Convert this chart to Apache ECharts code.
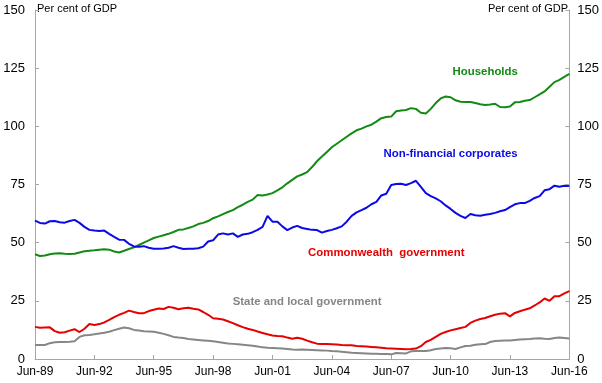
<!DOCTYPE html>
<html>
<head>
<meta charset="utf-8">
<script src="https://cdn.jsdelivr.net/npm/echarts@6/dist/echarts.min.js"></script>
<style>html,body{margin:0;padding:0;background:#fff}#c{width:602px;height:383px}</style>
</head>
<body>
<div id="c"></div>
<script>
// Quarterly, Jun-89 .. Jun-16
const startYear = 1989;
const quarterMonths = ['Jun', 'Sep', 'Dec', 'Mar'];
const tickLabels = ['Jun-89','Jun-92','Jun-95','Jun-98','Jun-01','Jun-04','Jun-07','Jun-10','Jun-13','Jun-16'];
const yTicks = [0, 25, 50, 75, 100, 125, 150];

const households = [
  45, 44.3, 44.5, 45,
  45.3, 45.5, 45.2, 45.1,
  45.2, 45.8, 46.3, 46.5,
  46.7, 47, 47.2, 47,
  46.2, 45.8, 46.5, 47.3,
  48, 49, 50, 51,
  52, 52.6, 53.2, 53.8,
  54.6, 55.5, 55.7, 56.3,
  57, 58, 58.5, 59.3,
  60.5, 61.3, 62.3, 63.2,
  64, 65.3, 66.3, 67.5,
  68.5, 70.5, 70.3, 70.7,
  71.3, 72.5, 73.8, 75.5,
  77, 78.5, 79.3, 80.3,
  82.5, 85, 87, 89,
  91, 92.5, 94, 95.5,
  97, 98.3, 99, 100,
  100.7, 102, 103.5, 104,
  104.2, 106.5, 106.8, 107,
  107.8, 107.5, 105.8, 105.5,
  107.5, 110, 112, 112.8,
  112.5, 111.2, 110.6, 110.5,
  110.5, 110, 109.5, 109.2,
  109.4, 109.7, 108.3, 108.2,
  108.5, 110.3, 110.5, 111,
  111.3, 112.5, 113.7, 115,
  117, 119, 120, 121.3,
  122.5
];
const corporates = [
  59.5, 58.5, 58.2, 59.2,
  59.3, 58.8, 58.6, 59.3,
  59.8, 58.5, 56.8, 55.5,
  55.2, 55, 55.2, 53.8,
  52.5, 51.3, 51.2, 49.5,
  48.4, 48.2, 48.5, 47.8,
  47.4, 47.4, 47.5, 47.8,
  48.5, 47.8, 47.3, 47.4,
  47.4, 47.6, 48.3, 50.5,
  51, 53.5, 54, 53.5,
  54, 52.5, 53.5, 53.8,
  54.5, 55.5, 56.8, 61.5,
  59, 59, 57, 55.4,
  56.5, 57.2, 56.3, 55.9,
  55.5, 55.4, 54.3, 55,
  55.5, 56.2, 57, 59,
  61.5, 63, 64, 65,
  66.5, 67.5, 70.3, 71,
  74.8, 75.2, 75.3, 74.8,
  75.6, 76.6, 74, 71.3,
  70, 69, 67.8, 66,
  64.5, 62.8, 61.5, 60.6,
  62.3, 61.8, 61.6, 62,
  62.3, 62.8, 63.5, 64,
  65.3, 66.5, 67, 67,
  68, 69.2, 70, 72.5,
  73, 74.5, 74, 74.5,
  74.3
];
const commonwealth = [
  13.8, 13.4, 13.5, 13.6,
  12, 11.3, 11.5, 12.2,
  12.8, 11.6, 13, 15,
  14.6, 15, 15.7, 16.8,
  18, 19, 19.8, 20.8,
  20.2, 19.7, 19.7, 20.6,
  21.2, 21.7, 21.5, 22.4,
  22, 21.4, 21.8, 22,
  21.6, 21.3, 20.2, 19,
  17.5, 17.3, 17, 16.2,
  15.4, 14.5, 13.7, 13,
  12.5, 11.8, 11.2, 10.6,
  10.1, 9.9, 9.8, 9.2,
  8.7, 9.1, 8.7, 7.9,
  7.2, 6.6, 6.4, 6.4,
  6.3, 6.2, 6.0, 5.9,
  5.9, 5.6, 5.5, 5.4,
  5.2, 5.0, 4.8, 4.6,
  4.5, 4.4, 4.3, 4.2,
  4.3, 4.5, 5.5, 7.3,
  8.2, 9.5, 10.8, 11.6,
  12.3, 12.8, 13.3, 13.8,
  15.5, 16.5, 17.2, 17.6,
  18.4, 19, 19.5, 19.7,
  18.3, 19.8, 20.5, 21.2,
  21.8, 23, 24.3, 26,
  25, 27, 27, 28.2,
  29.2
];
const stateLocal = [
  6.0, 6.0, 6.0, 6.8,
  7.2, 7.3, 7.3, 7.4,
  7.6, 9.5, 10.2, 10.3,
  10.6, 11, 11.3, 11.7,
  12.4, 13, 13.5, 13.2,
  12.5, 12.2, 11.9, 11.8,
  11.7, 11.3, 10.8, 10.2,
  9.5, 9.2, 9.0, 8.6,
  8.4, 8.2, 8.0, 7.8,
  7.6, 7.3, 7.0, 6.7,
  6.5, 6.3, 6.1, 5.9,
  5.7, 5.4, 5.0, 4.8,
  4.7, 4.6, 4.5, 4.3,
  4.1, 4.0, 4.1, 4.0,
  3.9, 3.8, 3.7, 3.6,
  3.4, 3.3, 3.1, 2.9,
  2.7, 2.6, 2.5, 2.4,
  2.3, 2.3, 2.2, 2.1,
  2.0, 2.6, 2.5, 2.4,
  3.3, 3.4, 3.4, 3.4,
  3.8, 4.3, 4.5, 4.7,
  4.6, 4.3, 5.0, 5.6,
  5.7, 6.1, 6.3, 6.4,
  7.3, 7.7, 7.8, 7.9,
  8.0, 8.2, 8.4, 8.5,
  8.6, 8.8, 8.9, 8.7,
  8.6, 9.0, 9.2, 9.0,
  8.8
];

const categories = households.map((_, i) => {
  const m = quarterMonths[i % 4];
  const y = startYear + Math.floor(i / 4) + (i % 4 === 3 ? 1 : 0);
  return m + '-' + String(y % 100).padStart(2, '0');
});

const seriesDefs = [
  { name: 'Households', data: households, color: '#138a13', label: { cat: 'Mar-12', val: 123.6 } },
  { name: 'Non-financial corporates', data: corporates, color: '#0a0ae6', label: { cat: 'Jun-10', val: 88.2 } },
  { name: 'Commonwealth  government', data: commonwealth, color: '#e60000', label: { cat: 'Mar-07', val: 45.6 } },
  { name: 'State and local government', data: stateLocal, color: '#868686', label: { cat: 'Mar-03', val: 24.5 } }
];

const axisColor = '#a6a6a6';
const chart = echarts.init(document.getElementById('c'), null, { renderer: 'canvas' });
const font = 'Liberation Sans, Arial, sans-serif';

chart.setOption({
  animation: false,
  backgroundColor: '#fff',
  grid: { left: 35, right: 32, top: 10, bottom: 24, containLabel: false },
  xAxis: {
    type: 'category',
    data: categories,
    boundaryGap: false,
    axisLine: { lineStyle: { color: axisColor, width: 1 } },
    axisTick: { inside: true, length: 4, interval: (i) => i % 12 === 0, lineStyle: { color: axisColor } },
    axisLabel: { interval: (i, v) => tickLabels.indexOf(v) >= 0, color: '#000', fontSize: 12, fontFamily: font, margin: 7, showMaxLabel: true },
    splitLine: { show: false }
  },
  yAxis: [
    {
      type: 'value', min: 0, max: 150, interval: 25, position: 'left',
      axisLine: { show: true, lineStyle: { color: axisColor } },
      axisTick: { show: true, inside: true, length: 4, lineStyle: { color: axisColor } },
      axisLabel: { color: '#000', fontSize: 13, fontFamily: font, margin: 10 },
      splitLine: { show: false }
    },
    {
      type: 'value', min: 0, max: 150, interval: 25, position: 'right',
      axisLine: { show: true, lineStyle: { color: axisColor } },
      axisTick: { show: true, inside: true, length: 4, lineStyle: { color: axisColor } },
      axisLabel: { color: '#000', fontSize: 13, fontFamily: font, margin: 8 },
      splitLine: { show: false }
    }
  ],
  series: seriesDefs.map(s => ({
    name: s.name, type: 'line', data: s.data, yAxisIndex: 0,
    showSymbol: false, symbol: 'none', smooth: false,
    lineStyle: { color: s.color, width: 2 },
    itemStyle: { color: s.color }
  }))
});

const graphics = [
  { type: 'text', left: 37, top: 3, style: { text: 'Per cent of GDP', fill: '#000', font: '11px ' + font } },
  { type: 'text', right: 34, top: 3, style: { text: 'Per cent of GDP', fill: '#000', font: '11px ' + font, align: 'right' } }
];
seriesDefs.forEach(s => {
  const p = chart.convertToPixel({ xAxisIndex: 0, yAxisIndex: 0 }, [s.label.cat, s.label.val]);
  graphics.push({
    type: 'text', x: p[0], y: p[1],
    style: { text: s.name, fill: s.color, font: 'bold 11.4px ' + font, align: 'center', verticalAlign: 'middle' }
  });
});
chart.setOption({ graphic: graphics });
</script>
</body>
</html>
